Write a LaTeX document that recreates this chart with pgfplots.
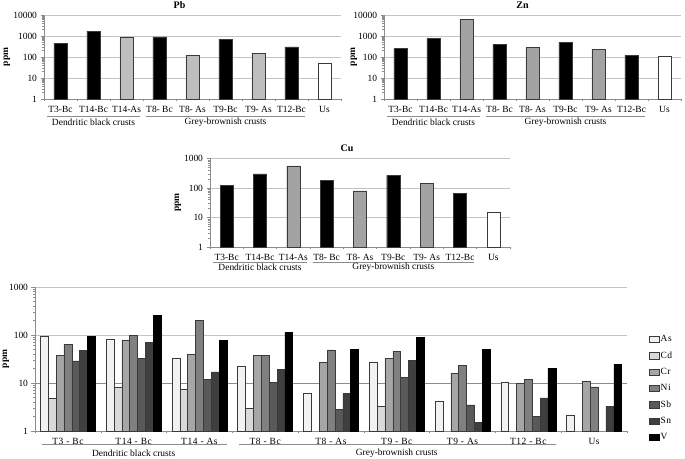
\documentclass[border=0pt]{standalone}
\usepackage{fontspec}
\setmainfont{Liberation Serif}
\newfontfamily\spc[LetterSpace=6]{Liberation Serif}
\usepackage{pgfplots}
\pgfplotsset{compat=1.18}
\definecolor{gridc}{HTML}{C4C4C4}
\definecolor{axc}{HTML}{8C8C8C}
\definecolor{edge}{HTML}{3A3A3A}
\definecolor{asPb}{HTML}{BEBEBE}
\definecolor{asZn}{HTML}{A3A3A3}
\definecolor{cAs}{HTML}{F2F2F2}
\definecolor{cCd}{HTML}{D9D9D9}
\definecolor{cCr}{HTML}{A6A6A6}
\definecolor{cNi}{HTML}{808080}
\definecolor{cSb}{HTML}{595959}
\definecolor{cSn}{HTML}{3F3F3F}
\definecolor{cV}{HTML}{000000}
\pgfplotsset{
  every axis/.append style={
    scale only axis,
    xmin=-0.5, xmax=8.5, enlargelimits=false,
    axis lines*=left,
    axis line style={axc, line width=0.6bp},
    tick style={axc, line width=0.5bp},
    tick align=outside, major tick length=3.5bp, minor tick length=2.2bp,
    xtick={0,...,8},
    major x tick style={draw=none},
    minor xtick={-0.5,0.5,...,8.5},
    ymajorgrids, grid style={gridc, line width=0.8bp},
    ticklabel style={font=\fontsize{9.5}{10}\selectfont},
    title style={font=\bfseries\fontsize{10}{11}\selectfont, at={(0.5,1)}, anchor=center, yshift=4bp},
    clip=false,
  },
}
\newcommand{\groups}[2]{%
  \draw[axc, line width=0.6bp] ([yshift=-#1]axis cs:-0.4,1) -- ([yshift=-#1]axis cs:2.42,1);
  \draw[axc, line width=0.6bp] ([yshift=-#1]axis cs:2.6,1) -- ([yshift=-#1]axis cs:7.42,1);
  \node[font=\fontsize{9.5}{10}\selectfont] at ([yshift=-#2]axis cs:1,1) {Dendritic black crusts};
  \node[font=\fontsize{9.5}{10}\selectfont] at ([yshift=-#2]axis cs:5,1) {Grey-brownish crusts};
}
\newcommand{\ppm}[1]{%
  \node[rotate=90, font=\bfseries\fontsize{9.5}{10}\selectfont] at ([xshift=-#1]rel axis cs:0,0.5) {ppm};
}
\begin{document}
\begin{tikzpicture}
\path[use as bounding box] (0,0) rectangle (685bp,459bp);

% ---------------- Pb ----------------
\begin{axis}[ymode=log, ymin=1, ymax=10000, at={(44bp,360bp)}, anchor=south west,
  width=297bp, height=84bp,
  ybar, bar width=13.2bp, bar shift=0pt,
  xticklabels={T3-Bc,T14-Bc,T14-As,T8- Bc,T8- As,T9-Bc,T9- As,T12-Bc,Us},
  ytick={1,10,100,1000,10000}, yticklabels={1,10,100,1000,10000},
  title={Pb}, title style={xshift=-13bp}]
\addplot[fill=black, draw=edge, bar shift=0pt] coordinates {(0,450) (1,1700) (3,900) (5,700) (7,300)};
\addplot[fill=asPb, draw=edge, bar shift=0pt] coordinates {(2,850) (4,120) (6,150)};
\addplot[fill=white, draw=edge, bar shift=0pt] coordinates {(8,50)};
\groups{17.5bp}{23.5bp}
\ppm{37bp}
\end{axis}

% ---------------- Zn ----------------
\begin{axis}[ymode=log, ymin=1, ymax=10000, at={(384bp,360bp)}, anchor=south west,
  width=297bp, height=84bp,
  ybar, bar width=13.2bp, bar shift=0pt,
  xticklabels={T3-Bc,T14-Bc,T14-As,T8- Bc,T8- As,T9-Bc,T9- As,T12-Bc,Us},
  ytick={1,10,100,1000,10000}, yticklabels={1,10,100,1000,10000},
  title={Zn}, title style={xshift=-10bp}]
\addplot[fill=black, draw=edge, bar shift=0pt] coordinates {(0,250) (1,750) (3,400) (5,480) (7,120)};
\addplot[fill=asZn, draw=edge, bar shift=0pt] coordinates {(2,6000) (4,280) (6,240)};
\addplot[fill=white, draw=edge, bar shift=0pt] coordinates {(8,105)};
\groups{17.5bp}{23.5bp}
\ppm{30bp}
\end{axis}

% ---------------- Cu ----------------
\begin{axis}[ymode=log, ymin=1, ymax=1000, at={(210bp,212bp)}, anchor=south west,
  width=300bp, height=88.5bp,
  ybar, bar width=13.2bp, bar shift=0pt,
  xticklabels={T3-Bc,T14-Bc,T14-As,T8- Bc,T8- As,T9-Bc,T9- As,T12-Bc,Us},
  ytick={1,10,100,1000}, yticklabels={1,10,100,1000},
  title={Cu}, title style={xshift=-13bp}]
\addplot[fill=black, draw=edge, bar shift=0pt] coordinates {(0,120) (1,300) (3,180) (5,270) (7,65)};
\addplot[fill=asZn, draw=edge, bar shift=0pt] coordinates {(2,560) (4,80) (6,140)};
\addplot[fill=white, draw=edge, bar shift=0pt] coordinates {(8,15)};
\groups{15bp}{20.5bp}
\ppm{32bp}
\end{axis}

% ---------------- all elements ----------------
\begin{axis}[ymode=log, ymin=1, ymax=1000, at={(35bp,28bp)}, anchor=south west,
  width=592bp, height=144bp,
  ybar=0pt, bar width=7.86bp,
  ytick={1,10,100,1000}, yticklabels={1,10,100,1000},
  extra y ticks={10}, extra y tick labels={},
  extra y tick style={grid style={color=axc, line width=0.6bp}, major tick length=0pt},
  xticklabels={T3 - Bc,T14 - Bc,T14 - As,T8 - Bc,T8 - As,T9 - Bc,T9 - As,T12 - Bc,Us},
  xticklabel style={font=\spc\fontsize{9.5}{10}\selectfont},
  legend style={draw=none, fill=none, at={(1.036,0.671)}, anchor=north west,
    font=\spc\fontsize{9.5}{10}\selectfont, row sep=6.5bp, inner sep=0pt,
    nodes={inner sep=1pt}},
  legend cell align=left,
  legend image code/.code={\draw[#1, line width=0.6bp] (0bp,-3.2bp) rectangle (10.5bp,3.2bp);},
  ]
\addplot[fill=cAs, draw=edge, line width=0.5bp] coordinates {(0,95) (1,80) (2,33) (3,22.5) (4,6.1) (5,27) (6,4.2) (7,10.5) (8,2.15)};
\addplot[fill=cCd, draw=edge, line width=0.5bp] coordinates {(0,4.7) (1,8.3) (2,7.3) (3,3.0) (5,3.3)};
\addplot[fill=cCr, draw=edge, line width=0.5bp] coordinates {(0,38) (1,79) (2,39) (3,37) (4,26.5) (5,33) (6,16) (7,9.8) (8,10.8)};
\addplot[fill=cNi, draw=edge, line width=0.5bp] coordinates {(0,64) (1,97) (2,205) (3,38) (4,49) (5,46) (6,23.5) (7,12) (8,8.3)};
\addplot[fill=cSb, draw=edge, line width=0.5bp] coordinates {(0,29) (1,33) (2,12) (3,10.3) (4,2.8) (5,13.3) (6,3.5) (7,2.05)};
\addplot[fill=cSn, draw=edge, line width=0.5bp] coordinates {(0,47) (1,69) (2,17) (3,19) (4,6.1) (5,29.5) (6,1.5) (7,4.9) (8,3.3)};
\addplot[fill=cV, draw=black, line width=0.5bp] coordinates {(0,94) (1,253) (2,76) (3,114) (4,50) (5,88) (6,50) (7,20) (8,24.5)};
\legend{As,Cd,Cr,Ni,Sb,Sn,V}
\groups{13.5bp}{22bp}
\ppm{29bp}
\end{axis}
\end{tikzpicture}
\end{document}
